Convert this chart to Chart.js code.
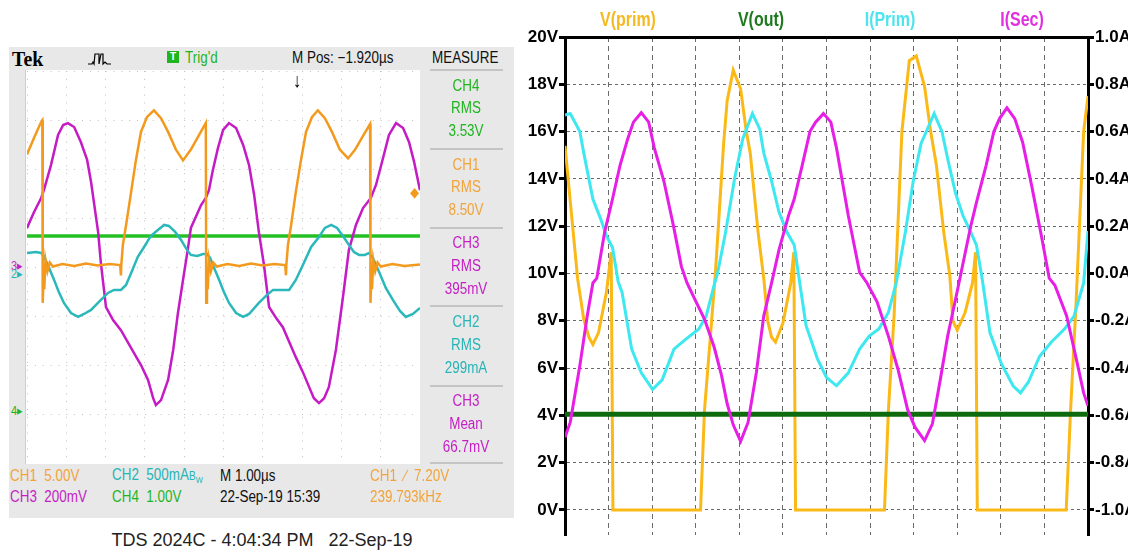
<!DOCTYPE html>
<html><head><meta charset="utf-8">
<script src="https://cdn.jsdelivr.net/npm/chart.js@4.4.1/dist/chart.umd.min.js"></script>
<style>
html,body{margin:0;padding:0;background:#fff;width:1128px;height:552px;overflow:hidden;position:relative;font-family:"Liberation Sans",Arial,sans-serif}
.t{position:absolute;white-space:nowrap;transform:translateY(-50%) scaleX(0.84);transform-origin:0 50%;font-size:16px;line-height:1}
.c{position:absolute;white-space:nowrap;transform:translate(-50%,-50%) scaleX(0.84);font-size:16px;line-height:1}
#scopeBg{position:absolute;left:9px;top:47px;width:505px;height:471px;background:#e8e8e8}
#scopeWrap{position:absolute;left:25px;top:70px;width:394px;height:394px;background:#fff;border-left:1px solid #cfcfcf}
#scope{position:absolute;left:1px;top:1px}
#spiceWrap{position:absolute;left:520px;top:0;width:608px;height:552px}
.sep{position:absolute;left:430px;width:73px;height:2px;background:#c4c4c4}
.leg{position:absolute;transform:translate(-50%,-50%) scaleX(0.76);font-weight:bold;font-size:21px;white-space:nowrap;line-height:1}
</style></head><body>
<div id="scopeBg"></div>
<div id="scopeWrap"><canvas id="scope" width="393" height="393"></canvas></div>
<div id="spiceWrap"><canvas id="spice" width="608" height="552"></canvas></div>

<!-- scope header -->
<div class="t" style="left:12px;top:59px;font-family:'Liberation Serif','DejaVu Serif',serif;font-weight:bold;font-size:22px;transform:translateY(-50%) scaleX(0.9)">Tek</div>
<svg style="position:absolute;left:88px;top:50px" width="26" height="16"><polyline points="0,14 4,14 5,12 6,14 7,4 11,4 11,14 13,4 15,4 15,14 17,12 19,14 23,14" fill="none" stroke="#000" stroke-width="1.2"/></svg>
<div style="position:absolute;left:167px;top:51px;width:12px;height:12px;background:#1fb51f;color:#fff;font-size:10px;font-weight:bold;text-align:center;line-height:12px">T</div>
<div class="t" style="left:185px;top:58px;color:#1fb51f">Trig'd</div>
<div class="t" style="left:292px;top:58px;color:#111">M Pos: −1.920µs</div>
<div class="t" style="left:432px;top:58px;color:#111">MEASURE</div>
<div class="c" style="left:297px;top:80px;color:#000;font-size:20px;font-weight:bold">↓</div>

<!-- measure panel -->
<div class="sep" style="top:69px"></div>
<div class="sep" style="top:148px"></div>
<div class="sep" style="top:227px"></div>
<div class="sep" style="top:305px"></div>
<div class="sep" style="top:385px"></div>
<div class="sep" style="top:462px"></div>
<div class="c" style="left:466px;top:86px;color:#1fb51f">CH4</div>
<div class="c" style="left:466px;top:108px;color:#1fb51f">RMS</div>
<div class="c" style="left:466px;top:131px;color:#1fb51f">3.53V</div>
<div class="c" style="left:466px;top:165px;color:#f2a33a">CH1</div>
<div class="c" style="left:466px;top:187px;color:#f2a33a">RMS</div>
<div class="c" style="left:466px;top:210px;color:#f2a33a">8.50V</div>
<div class="c" style="left:466px;top:243px;color:#c41fc4">CH3</div>
<div class="c" style="left:466px;top:266px;color:#c41fc4">RMS</div>
<div class="c" style="left:466px;top:289px;color:#c41fc4">395mV</div>
<div class="c" style="left:466px;top:322px;color:#27b4b6">CH2</div>
<div class="c" style="left:466px;top:345px;color:#27b4b6">RMS</div>
<div class="c" style="left:466px;top:368px;color:#27b4b6">299mA</div>
<div class="c" style="left:466px;top:401px;color:#c41fc4">CH3</div>
<div class="c" style="left:466px;top:424px;color:#c41fc4">Mean</div>
<div class="c" style="left:466px;top:447px;color:#c41fc4">66.7mV</div>

<!-- ground markers -->
<div class="t" style="left:11px;top:265px;color:#c41fc4;font-size:13px">3▸</div>
<div class="t" style="left:11px;top:273px;color:#27b4b6;font-size:13px">2▸</div>
<div class="t" style="left:11px;top:410px;color:#1fb51f;font-size:13px">4▸</div>
<div class="c" style="left:415px;top:192px;color:#f39a1e;font-size:14px">◆</div>

<!-- status lines -->
<div class="t" style="left:10px;top:476px;color:#f2a33a">CH1&nbsp;&nbsp;5.00V</div>
<div class="t" style="left:112px;top:476px;color:#27b4b6">CH2&nbsp;&nbsp;500mA<span style="font-size:12px">B<sub style="font-size:9px">W</sub></span></div>
<div class="t" style="left:220px;top:476px;color:#111">M 1.00µs</div>
<div class="t" style="left:370px;top:476px;color:#f2a33a">CH1&nbsp;&nbsp;∕&nbsp;&nbsp;7.20V</div>
<div class="t" style="left:10px;top:497px;color:#c41fc4">CH3&nbsp;&nbsp;200mV</div>
<div class="t" style="left:112px;top:497px;color:#1fb51f">CH4&nbsp;&nbsp;1.00V</div>
<div class="t" style="left:220px;top:497px;color:#111">22-Sep-19 15:39</div>
<div class="t" style="left:370px;top:497px;color:#f2a33a">239.793kHz</div>
<div class="c" style="left:262px;top:540px;color:#222;font-size:18px;transform:translate(-50%,-50%)">TDS 2024C - 4:04:34 PM &nbsp; 22-Sep-19</div>

<!-- spice legend -->
<div class="leg" style="left:628px;top:18px;color:#f5b921">V(prim)</div>
<div class="leg" style="left:761px;top:18px;color:#1f7a1f">V(out)</div>
<div class="leg" style="left:890px;top:18px;color:#4fe3ef">I(Prim)</div>
<div class="leg" style="left:1022px;top:18px;color:#e030e0">I(Sec)</div>

<script>
// ===== Oscilloscope (left) : time in µs, values in channel units =====
const ch1Points = [ // CH1 volts
 [0,11.5],[0.18,13.2],[0.37,14.9],[0.39,15.0],[0.40,-3.6],[0.42,-1.2],[0.44,-2.2],[0.47,0.8],[0.52,-0.4],[0.58,0.5],[0.66,0.1],
 [0.9,0.35],[1.2,0.15],[1.5,0.4],[1.8,0.2],[2.1,0.35],[2.37,0.25],[2.39,-0.8],[2.40,0.3],
 [2.44,2.3],[2.52,4.3],[2.65,7.7],[2.77,10.9],[2.9,13.8],[3.05,15.3],[3.23,16.0],[3.41,15.2],[3.59,13.8],[3.79,12.0],[3.97,10.9],
 [4.17,12.0],[4.38,13.5],[4.55,14.7],[4.56,-3.6],[4.58,-1.2],[4.60,-2.2],[4.63,0.8],[4.68,-0.4],[4.74,0.5],[4.83,0.1],
 [5.1,0.35],[5.4,0.15],[5.7,0.4],[6.0,0.2],[6.3,0.35],[6.57,0.25],[6.59,-0.8],[6.60,0.3],
 [6.64,2.3],[6.72,4.3],[6.84,7.7],[6.97,10.9],[7.1,13.8],[7.25,15.3],[7.4,16.0],[7.58,15.2],[7.76,13.8],[7.96,12.0],[8.17,11.1],
 [8.35,12.0],[8.55,13.4],[8.73,14.6],[8.74,-3.6],[8.76,-1.2],[8.78,-2.2],[8.81,0.8],[8.86,-0.4],[8.92,0.5],[9.0,0.1],
 [9.3,0.35],[9.6,0.15],[10.0,0.3]
];
const ch2Points = [ // CH2 milliamps
 [0,183],[0.23,193],[0.36,183],[0.43,153],[0.53,61],[0.69,-92],[0.81,-214],[0.94,-326],[1.12,-428],[1.3,-468],[1.45,-438],
 [1.63,-397],[1.83,-316],[2.06,-224],[2.21,-193],[2.39,-193],[2.52,-143],[2.65,-20],[2.82,143],[2.98,244],[3.15,356],[3.33,417],
 [3.49,468],[3.61,458],[3.77,397],[3.92,316],[4.07,214],[4.17,163],[4.33,153],[4.48,173],[4.58,173],[4.66,132],[4.73,61],
 [4.89,-92],[5.01,-214],[5.14,-326],[5.32,-428],[5.5,-468],[5.65,-438],[5.9,-326],[6.08,-254],[6.26,-193],[6.46,-193],[6.67,-193],
 [6.84,-92],[7.02,61],[7.23,244],[7.43,346],[7.58,438],[7.74,468],[7.89,438],[8.04,356],[8.19,265],[8.32,193],[8.45,163],
 [8.6,163],[8.7,183],[8.8,132],[8.96,-10],[9.13,-173],[9.31,-295],[9.49,-407],[9.64,-468],[9.82,-438],[10,-377]
];
const ch3Points = [ // CH3 millivolts
 [0,151],[0.18,216],[0.36,273],[0.43,305],[0.61,407],[0.79,530],[0.92,570],[1.04,578],[1.2,562],[1.37,501],[1.53,428],
 [1.63,338],[1.81,134],[1.88,8],[1.96,-102],[2.01,-171],[2.19,-224],[2.39,-265],[2.72,-358],[2.9,-407],[3.08,-468],[3.21,-542],
 [3.28,-570],[3.41,-550],[3.59,-468],[3.72,-346],[3.84,-196],[3.97,-61],[4.1,73],[4.17,151],[4.43,244],[4.55,273],[4.63,305],
 [4.73,387],[4.86,477],[4.99,550],[5.14,578],[5.32,558],[5.5,489],[5.65,407],[5.78,285],[5.9,134],[6.03,0],[6.16,-171],
 [6.34,-216],[6.51,-253],[6.84,-375],[7.02,-436],[7.18,-497],[7.3,-542],[7.43,-562],[7.56,-542],[7.68,-497],[7.86,-346],
 [8.04,-130],[8.19,61],[8.37,163],[8.55,232],[8.75,273],[8.88,326],[9.06,436],[9.21,530],[9.39,578],[9.57,558],[9.72,501],
 [9.85,420],[10,305]
];
const ch4Points = [[0,3.54],[10,3.54]]; // CH4 volts

const scopeLabels = ['CH1','CH2','CH3','CH4'];
const scopeColors = ['#f39a1e','#2bb8bb','#c41bc4','#25c025'];
const scopePerDiv = [5, 500, 200, 1];          // units per division
const scopeGroundDiv = [0, -0.07, 0.05, -2.9]; // ground marker, divisions above centre

// ===== LTspice (right) : time in µs =====
const vPrim = [
 [0,15.4],[0.29,9.77],[0.43,8.07],[0.55,7.3],[0.64,7.0],[0.77,7.5],[0.95,9.2],[1.06,10.9],[1.1,0],
 [3.11,0],[3.2,4.2],[3.33,7.2],[3.45,10.0],[3.64,15.5],[3.72,17.3],[3.86,18.6],[4.03,17.8],[4.16,16.0],[4.25,15.1],
 [4.43,11.75],[4.56,9.8],[4.65,8.0],[4.74,7.3],[4.83,7.1],[5.0,7.9],[5.18,9.6],[5.25,10.9],[5.29,0],
 [7.33,0],[7.42,4.2],[7.55,8.2],[7.73,16.0],[7.9,19.0],[8.06,19.2],[8.25,17.9],[8.39,16.0],[8.52,14.6],[8.69,11.75],
 [8.83,9.9],[8.9,8.0],[9.0,7.6],[9.18,8.35],[9.35,9.6],[9.42,10.9],[9.46,0],
 [11.5,0],[11.6,4.2],[11.72,8.5],[11.9,16.0],[12.0,17.5]
];
const vOut = [[0,4.05],[12,4.05]];
const iPrim = [
 [0,0.67],[0.12,0.676],[0.34,0.60],[0.43,0.51],[0.64,0.315],[0.82,0.23],[0.95,0.16],[1.09,0.11],[1.22,-0.035],[1.31,-0.08],
 [1.53,-0.32],[1.75,-0.42],[2.01,-0.49],[2.23,-0.45],[2.5,-0.32],[2.76,-0.28],[3.07,-0.235],[3.24,-0.18],[3.42,-0.05],[3.5,0.0],
 [3.68,0.17],[3.9,0.41],[4.08,0.57],[4.3,0.676],[4.47,0.61],[4.56,0.51],[4.74,0.39],[4.91,0.26],[5.09,0.175],[5.26,0.12],
 [5.35,0.005],[5.53,-0.22],[5.79,-0.36],[6.0,-0.44],[6.23,-0.475],[6.5,-0.42],[6.76,-0.32],[6.98,-0.265],[7.2,-0.235],[7.42,-0.165],
 [7.6,-0.04],[7.81,0.175],[7.99,0.39],[8.17,0.55],[8.47,0.676],[8.65,0.60],[8.78,0.485],[8.96,0.34],[9.13,0.245],[9.31,0.175],
 [9.44,0.12],[9.57,-0.02],[9.75,-0.25],[10.01,-0.38],[10.28,-0.475],[10.45,-0.505],[10.63,-0.46],[10.89,-0.35],[11.16,-0.29],
 [11.46,-0.235],[11.68,-0.18],[11.9,-0.04],[12.0,0.18]
];
const iSec = [
 [0,-0.693],[0.12,-0.63],[0.34,-0.39],[0.51,-0.18],[0.64,-0.04],[0.73,-0.02],[0.91,0.175],[1.09,0.315],[1.26,0.455],[1.44,0.57],
 [1.57,0.64],[1.75,0.68],[1.92,0.64],[2.05,0.53],[2.27,0.39],[2.49,0.2],[2.67,0.03],[2.8,-0.04],[2.98,-0.11],[3.2,-0.193],
 [3.42,-0.31],[3.59,-0.43],[3.72,-0.55],[3.86,-0.64],[4.03,-0.71],[4.2,-0.63],[4.39,-0.42],[4.56,-0.18],[4.74,-0.04],[4.91,0.10],
 [5.13,0.245],[5.26,0.315],[5.44,0.455],[5.62,0.6],[5.75,0.64],[5.93,0.676],[6.1,0.64],[6.23,0.53],[6.5,0.245],[6.76,0.005],
 [6.93,-0.04],[7.16,-0.12],[7.42,-0.265],[7.64,-0.405],[7.86,-0.575],[8.03,-0.65],[8.25,-0.707],[8.43,-0.636],[8.61,-0.45],
 [8.78,-0.265],[8.96,-0.11],[9.09,0.005],[9.31,0.2],[9.44,0.3],[9.66,0.455],[9.84,0.6],[9.97,0.655],[10.14,0.7],[10.32,0.655],
 [10.5,0.555],[10.72,0.36],[10.94,0.15],[11.11,-0.02],[11.24,-0.05],[11.51,-0.18],[11.73,-0.36],[11.9,-0.505],[12.0,-0.56]
];
const spiceLabels = ['V(prim)','V(out)','I(Prim)','I(Sec)'];
const spiceColors = ['#fbb917','#0d6b0d','#3ee8f0','#e61ee6'];
const voltTicks = [0,2,4,6,8,10,12,14,16,18,20];
const ampTicks = [-1.0,-0.8,-0.6,-0.4,-0.2,0.0,0.2,0.4,0.6,0.8,1.0];
const timeGrid = [0,1,2,3,4,5,6,7,8,9,10,11,12];

const toXY = arr => arr.map(p => ({x:p[0], y:p[1]}));

// ---------- scope chart ----------
const scopeSeries = [ch1Points, ch2Points, ch3Points, ch4Points];
const scopeScales = {
  x:{type:'linear',min:0,max:10,ticks:{display:false,stepSize:1},
     grid:{color:'#c2c2c2',drawTicks:false,lineWidth:1},
     border:{display:false,dash:[1,6.86]}, afterFit:s=>{s.height=0;}}
};
scopeLabels.forEach((lab,i)=>{
  const pd = scopePerDiv[i], g = scopeGroundDiv[i];
  scopeScales['y'+lab] = {type:'linear',min:(-4-g)*pd,max:(4-g)*pd,display:i===0,position:'left',
     ticks:{display:false,stepSize:pd},
     grid:{color:'#c2c2c2',drawTicks:false,lineWidth:1},
     border:{display:false,dash:[1,6.86]}, afterFit:s=>{s.width=0;}};
});
new Chart(document.getElementById('scope'),{
  type:'line',
  data:{datasets:scopeSeries.map((pts,i)=>({label:scopeLabels[i],data:toXY(pts),yAxisID:'y'+scopeLabels[i],
     borderColor:scopeColors[i],borderWidth:i===3?3.5:2.5,pointRadius:0,tension:0,fill:false}))},
  options:{responsive:false,animation:false,devicePixelRatio:1,layout:{padding:0},
    plugins:{legend:{display:false},tooltip:{enabled:false}},scales:scopeScales}
});

// ---------- LTspice chart ----------
const tickFont = {family:"'Liberation Sans',Arial,sans-serif",size:17,weight:'bold'};
const spiceSeries = [vPrim, vOut, iPrim, iSec];
const spiceAxis = ['yV','yV','yA','yA'];
new Chart(document.getElementById('spice'),{
  type:'line',
  data:{datasets:spiceSeries.map((pts,i)=>({label:spiceLabels[i],data:toXY(pts),yAxisID:spiceAxis[i],
     borderColor:spiceColors[i],borderWidth:i===1?5:3,pointRadius:0,tension:0,fill:false,order:4-i}))},
  options:{responsive:false,animation:false,devicePixelRatio:1,
    layout:{padding:{top:37,bottom:17,left:0,right:0}},
    plugins:{legend:{display:false},tooltip:{enabled:false}},
    scales:{
      x:{type:'linear',min:0,max:12,afterBuildTicks:s=>{s.ticks=timeGrid.map(v=>({value:v}));},
         ticks:{display:false},grid:{color:'#6a6a6a',drawTicks:false,lineWidth:1},
         border:{display:false,dash:[5,4]},afterFit:s=>{s.height=0;}},
      xTop:{type:'linear',position:'top',min:0,max:12,ticks:{display:false},
         grid:{drawOnChartArea:false,drawTicks:false},border:{display:true,color:'#000',width:3},afterFit:s=>{s.height=0;}},
      yV:{type:'linear',position:'left',min:-1.06,max:20,
         afterBuildTicks:s=>{s.ticks=voltTicks.map(v=>({value:v}));},
         ticks:{callback:v=>v+'V',font:tickFont,color:'#000',padding:1},
         grid:{color:'#6a6a6a',lineWidth:1,drawTicks:true,tickLength:6,tickColor:'#000',tickWidth:3},
         border:{display:true,color:'#000',width:3,dash:[3,3]},afterFit:s=>{s.width=45;}},
      yA:{type:'linear',position:'right',min:-1.106,max:1.0,
         afterBuildTicks:s=>{s.ticks=ampTicks.map(v=>({value:v}));},
         ticks:{callback:v=>(Math.abs(v)<1e-9?0:v).toFixed(1)+'A',font:tickFont,color:'#000',padding:1},
         grid:{drawOnChartArea:false,drawTicks:true,tickLength:6,tickColor:'#000',tickWidth:3},
         border:{display:true,color:'#000',width:3},afterFit:s=>{s.width=40;}}
    }}
});
</script>
</body></html>
